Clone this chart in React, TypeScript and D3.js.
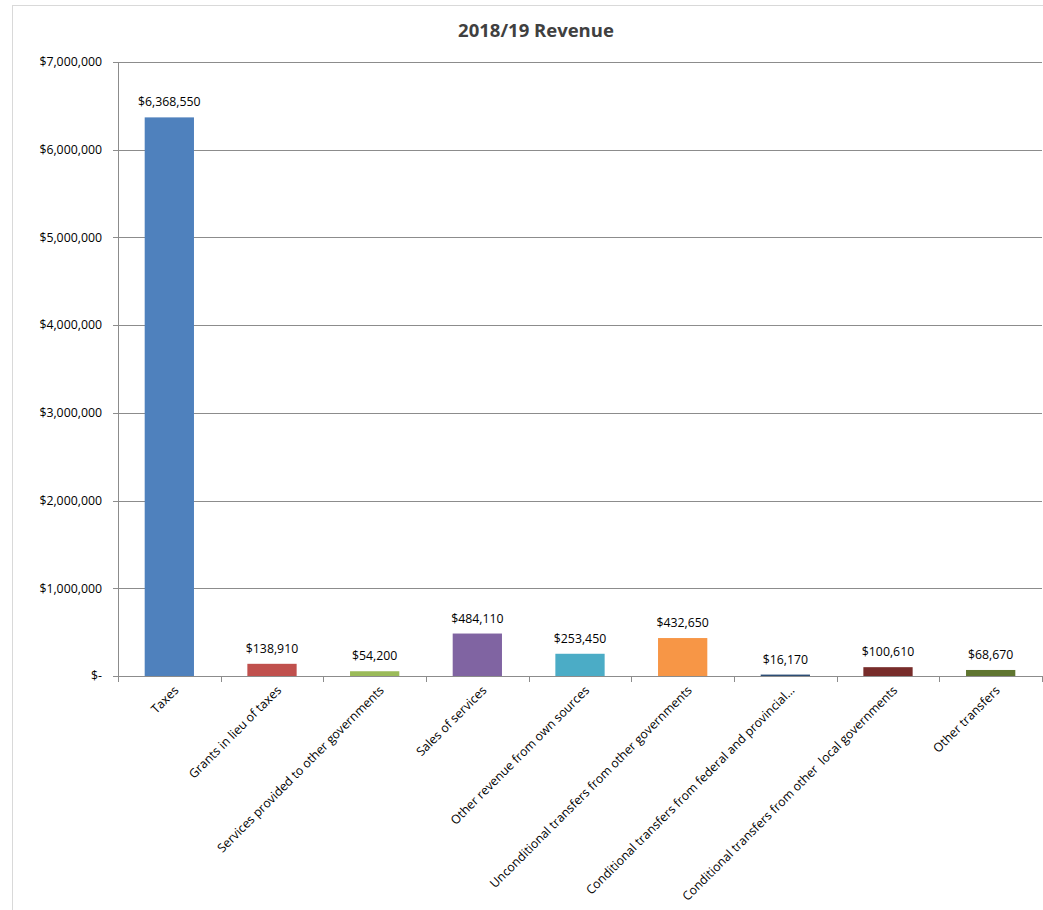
import React, { useEffect, useRef } from "react";
import * as d3 from "d3";

const categories = [
  "Taxes",
  "Grants in lieu of taxes",
  "Services provided to other governments",
  "Sales of services",
  "Other revenue from own sources",
  "Unconditional transfers from other governments",
  "Conditional transfers from federal and provincial...",
  "Conditional transfers from other  local governments",
  "Other transfers",
];

const revenue = [6368550, 138910, 54200, 484110, 253450, 432650, 16170, 100610, 68670];

const barColors = [
  "#4F81BD",
  "#C0504D",
  "#9BBB59",
  "#8064A2",
  "#4BACC6",
  "#F79646",
  "#2C4D75",
  "#772C2A",
  "#5F7530",
];

const yTicks = [0, 1000000, 2000000, 3000000, 4000000, 5000000, 6000000, 7000000];

const W = 1043;
const H = 910;
const FONT = "'Open Sans', 'Noto Sans', sans-serif";

const money = (v: number) => (v === 0 ? "$-" : "$" + d3.format(",")(v));

export default function App() {
  const ref = useRef<SVGSVGElement>(null);

  useEffect(() => {
    const svg = d3.select(ref.current);
    svg.selectAll("*").remove();

    const left = 118;
    const right = 1042;
    const top = 62;
    const bottom = 676;

    // outer chart frame
    svg
      .append("rect")
      .attr("x", 12.5)
      .attr("y", 5.5)
      .attr("width", W + 20)
      .attr("height", H + 20)
      .attr("fill", "#fff")
      .attr("stroke", "#d9d9d9");

    svg
      .append("text")
      .attr("x", 536)
      .attr("y", 37)
      .attr("text-anchor", "middle")
      .attr("font-family", FONT)
      .attr("font-weight", "bold")
      .attr("font-size", 18.5)
      .attr("fill", "#404040")
      .text("2018/19 Revenue");

    const x = d3.scaleBand<string>().domain(categories).range([left, right]).paddingInner(0.52).paddingOuter(0.26);
    const step = x.step();
    const y = d3.scaleLinear().domain([0, 7000000]).range([bottom, top]);

    // horizontal gridlines
    svg
      .append("g")
      .selectAll("line")
      .data(yTicks.filter((t) => t > 0))
      .join("line")
      .attr("x1", left)
      .attr("x2", right)
      .attr("y1", (d) => Math.round(y(d)) + 0.5)
      .attr("y2", (d) => Math.round(y(d)) + 0.5)
      .attr("stroke", "#8c8c8c")
      .attr("stroke-width", 1);

    // y tick marks and labels
    const yg = svg.append("g");
    yg.selectAll("line")
      .data(yTicks)
      .join("line")
      .attr("x1", left - 5)
      .attr("x2", left)
      .attr("y1", (d) => Math.round(y(d)) + 0.5)
      .attr("y2", (d) => Math.round(y(d)) + 0.5)
      .attr("stroke", "#8c8c8c");
    yg.selectAll("text")
      .data(yTicks)
      .join("text")
      .attr("x", 102)
      .attr("y", (d) => y(d))
      .attr("dy", "0.35em")
      .attr("text-anchor", "end")
      .attr("font-family", FONT)
      .attr("font-size", 12.3)
      .attr("fill", "#000")
      .text((d) => money(d));

    // bars
    svg
      .append("g")
      .selectAll("rect")
      .data(revenue)
      .join("rect")
      .attr("x", (_, i) => x(categories[i])!)
      .attr("width", x.bandwidth())
      .attr("y", (d) => y(d))
      .attr("height", (d) => y(0) - y(d))
      .attr("fill", (_, i) => barColors[i]);

    // value labels
    svg
      .append("g")
      .selectAll("text")
      .data(revenue)
      .join("text")
      .attr("x", (_, i) => x(categories[i])! + x.bandwidth() / 2)
      .attr("y", (d) => y(d) - 11)
      .attr("text-anchor", "middle")
      .attr("font-family", FONT)
      .attr("font-size", 12.3)
      .attr("fill", "#000")
      .text((d) => money(d));

    // axes lines
    svg
      .append("line")
      .attr("x1", left + 0.5)
      .attr("x2", left + 0.5)
      .attr("y1", top)
      .attr("y2", bottom + 1)
      .attr("stroke", "#8c8c8c");
    svg
      .append("line")
      .attr("x1", left)
      .attr("x2", right)
      .attr("y1", bottom + 0.5)
      .attr("y2", bottom + 0.5)
      .attr("stroke", "#8c8c8c");

    // x tick marks at category boundaries
    svg
      .append("g")
      .selectAll("line")
      .data(d3.range(categories.length + 1))
      .join("line")
      .attr("x1", (i) => Math.round(left + i * step) + 0.5)
      .attr("x2", (i) => Math.round(left + i * step) + 0.5)
      .attr("y1", bottom)
      .attr("y2", bottom + 6)
      .attr("stroke", "#8c8c8c");

    // rotated category labels
    svg
      .append("g")
      .selectAll("text")
      .data(categories)
      .join("text")
      .attr("transform", (d) => `translate(${x(d)! + x.bandwidth() / 2 + 7},${bottom + 12}) rotate(-45)`)
      .attr("text-anchor", "end")
      .attr("dy", "0.35em")
      .attr("font-family", FONT)
      .attr("font-size", 12.3)
      .attr("fill", "#000")
      .style("white-space", "pre")
      .text((d) => d);
  }, []);

  return (
    <svg
      ref={ref}
      width={W}
      height={H}
      style={{ position: "absolute", left: 0, top: 0, display: "block" }}
    />
  );
}
